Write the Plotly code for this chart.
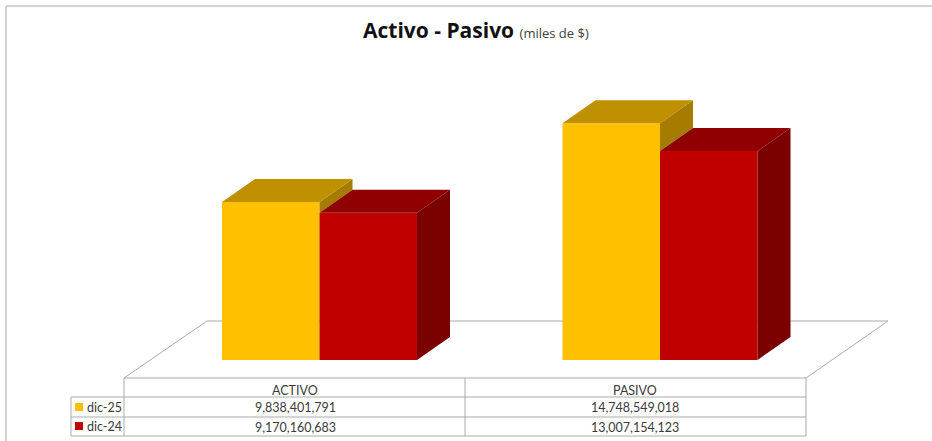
import plotly.graph_objects as go

W, H = 932, 441

categories = ["ACTIVO", "PASIVO"]
series_names = ["dic-25", "dic-24"]
dic25 = [9838401791, 14748549018]
dic24 = [9170160683, 13007154123]

YELLOW = ["#FFC000", "#BF9000", "#A67C00"]  # front, top, side
RED = ["#C00000", "#900000", "#7B0000"]
GRID = "#ABABAB"
TEXT = "#3A3A3A"
CELL_FONT = "Lato, sans-serif"

# axis scales, pixels per unit, measured on the picture
X_UNIT = 340.5
Y_UNIT = 16.06e-9
BAR_W = 97.5 / X_UNIT
DX = 33 / X_UNIT
DY = 23 / Y_UNIT
positions = list(range(len(categories)))


def px(x):
    return x / W


def py(y):
    return 1 - y / H


def poly(xs, ys, color):
    return go.Scatter(
        x=xs + xs[:1],
        y=ys + ys[:1],
        mode="lines",
        fill="toself",
        fillcolor=color,
        line=dict(color=color, width=0),
        hoverinfo="skip",
        showlegend=False,
    )


def line(x0, y0, x1, y1):
    return dict(
        type="line",
        xref="paper",
        yref="paper",
        x0=px(x0),
        y0=py(y0),
        x1=px(x1),
        y1=py(y1),
        line=dict(color=GRID, width=1),
        layer="below",
    )


def label(x, y, text, size=12.5, color=TEXT, anchor="center", family=CELL_FONT):
    return dict(
        x=px(x),
        y=py(y),
        xref="paper",
        yref="paper",
        text=text,
        showarrow=False,
        xanchor=anchor,
        yanchor="middle",
        font=dict(size=size, color=color, family=family),
    )


fig = go.Figure()
fig.add_bar(x=positions, y=dic25, name=series_names[0], marker_color=YELLOW[0], marker_line_width=0)
fig.add_bar(x=positions, y=dic24, name=series_names[1], marker_color=RED[0], marker_line_width=0)

# depth faces hang off the same data values as the bars
for p, a, b in zip(positions, dic25, dic24):
    left, mid, right = p - BAR_W, p, p + BAR_W
    fig.add_trace(poly([mid, mid + DX, mid + DX, mid], [a, a + DY, b + DY, b], YELLOW[2]))
    fig.add_trace(poly([left, left + DX, mid + DX, mid], [a, a + DY, a + DY, a], YELLOW[1]))
    fig.add_trace(poly([mid, mid + DX, right + DX, right], [b, b + DY, b + DY, b], RED[1]))
    fig.add_trace(poly([right, right + DX, right + DX, right], [b, b + DY, DY, 0], RED[2]))

shapes = [
    # chart frame
    line(6, 6, W, 6),
    line(6, 6, 6, H),
    # floor
    line(124, 378, 207, 321),
    line(207, 321, 888, 321),
    line(888, 321, 806, 378),
    # data table
    line(124, 378, 806, 378),
    line(71, 397, 806, 397),
    line(71, 417, 806, 417),
    line(71, 436, 806, 436),
    line(71, 397, 71, 436),
    line(124, 378, 124, 436),
    line(465, 378, 465, 436),
    line(806, 378, 806, 436),
]
for y0, color in [(403, YELLOW[0]), (422, RED[0])]:
    shapes.append(
        dict(
            type="rect",
            xref="paper",
            yref="paper",
            x0=px(75),
            x1=px(83),
            y0=py(y0),
            y1=py(y0 + 8),
            fillcolor=color,
            line_width=0,
        )
    )

annotations = [
    label(
        476,
        30,
        "<b>Activo - Pasivo</b> <span style='font-size:13px;color:#404040'>(miles de $)</span>",
        size=21,
        color="#111111",
        family="Open Sans, sans-serif",
    ),
    label(85, 407, series_names[0], anchor="left"),
    label(85, 426, series_names[1], anchor="left"),
]
for x, name, a, b in zip([295, 635], categories, dic25, dic24):
    annotations.append(label(x, 390, name))
    annotations.append(label(x, 407, f"{a:,}"))
    annotations.append(label(x, 427, f"{b:,}"))

fig.update_layout(
    width=W,
    height=H,
    margin=dict(l=0, r=0, t=0, b=0),
    paper_bgcolor="white",
    plot_bgcolor="rgba(0,0,0,0)",
    barmode="group",
    bargap=1 - 2 * BAR_W,
    bargroupgap=0,
    showlegend=False,
    shapes=shapes,
    annotations=annotations,
)
fig.update_xaxes(range=[-319.5 / X_UNIT, (W - 319.5) / X_UNIT], visible=False)
fig.update_yaxes(range=[-(H - 360) / Y_UNIT, 360 / Y_UNIT], visible=False)

fig.write_html(
    "out.html",
    config={"displayModeBar": False},
    post_script="document.body.style.margin='0';",
)
